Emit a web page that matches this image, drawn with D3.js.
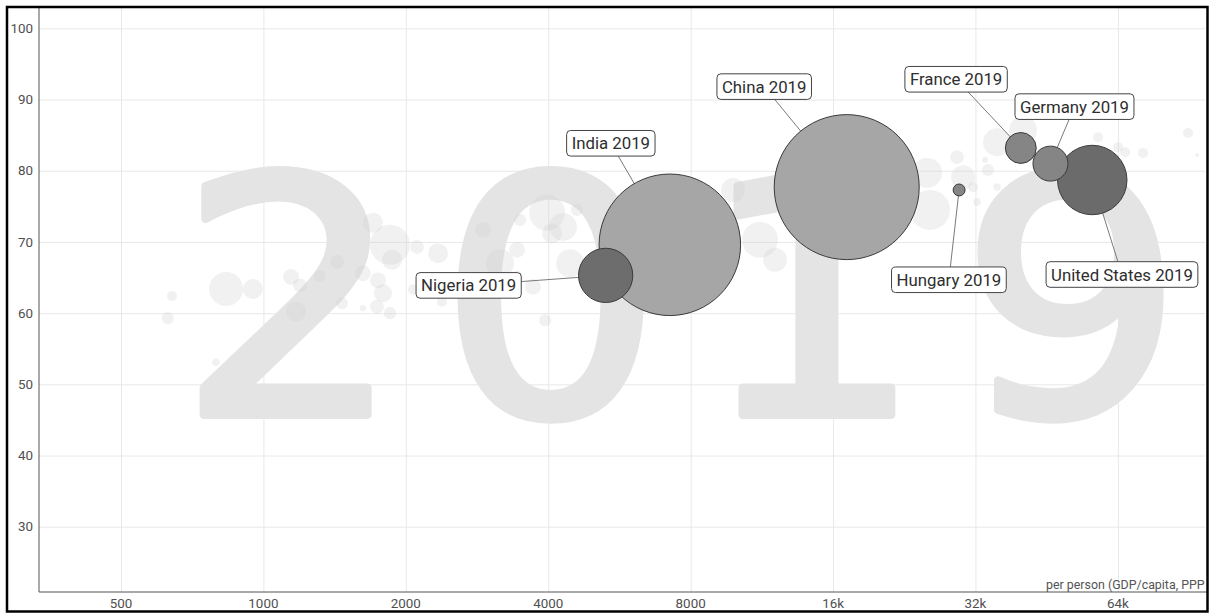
<!DOCTYPE html>
<html><head><meta charset="utf-8">
<script src="https://cdn.jsdelivr.net/npm/d3@7"></script>
<style>
html,body{margin:0;padding:0;background:#fff;}
svg{display:block;}
text{font-family:Roboto,"Open Sans",sans-serif;}
</style></head><body>
<svg id="chart" width="1209" height="613"></svg>
<script>
// ---------- data ----------
const yearLabel = "2019";
const countries = ["Nigeria", "India", "China", "Hungary", "France", "Germany", "United States"];
const regions = ["africa", "asia", "asia", "europe", "europe", "europe", "americas"];
const gdpPerCapita = [5290, 7230, 17100, 29550, 39900, 46100, 56500];
const lifeExpectancy = [65.3, 69.6, 77.7, 77.3, 83.2, 81.0, 78.7];
const populationM = [201, 1366, 1434, 9.7, 65, 83.5, 329];

// other (non-selected) countries, faint background bubbles
const bgGdp = [641, 628, 834, 950, 1144, 1195, 1172, 794, 1317, 1431, 1705, 1852, 1870, 2112, 2340, 1623, 1747, 1790, 1466, 1623, 1738, 1852, 2072, 2385, 2912, 3164, 3437, 3487, 3977, 4075, 4298, 4602, 4448, 3714, 3939, 3437, 9836, 11213, 12066, 9235, 13624, 25284, 25652, 29261, 30126, 31624, 32245, 34013, 33520, 35548, 35548, 40337, 58110, 64050, 66300, 72350, 90050, 94100, 21110, 22165];
const bgLife = [62.4, 59.3, 63.4, 63.4, 65.1, 63.9, 60.2, 53.1, 65.2, 67.2, 72.7, 69.6, 67.5, 69.3, 68.4, 65.6, 64.6, 62.8, 61.4, 60.7, 60.9, 60.0, 63.3, 61.6, 71.7, 67.0, 68.9, 73.1, 74.1, 71.2, 72.1, 74.5, 67.0, 63.7, 59.0, 65.1, 77.3, 70.3, 67.5, 66.1, 71.7, 79.7, 74.5, 81.9, 79.1, 77.7, 75.6, 80.1, 81.5, 77.7, 84.0, 85.7, 84.7, 83.3, 82.6, 82.5, 85.3, 82.2, 73.8, 77.3];
const bgPop = [7, 10, 79, 27, 17, 13, 27, 4, 10, 13, 27, 109, 27, 13, 27, 17, 17, 22, 10, 2.5, 13, 10, 7, 7, 17, 53, 17, 10, 88, 27, 53, 10, 53, 17, 10, 10, 39, 88, 39, 27, 27, 61, 109, 13, 39, 7, 4, 10, 2.5, 4, 53, 53, 7, 7, 7, 7, 7, 1, 27, 17];

const xTickValues = [500, 1000, 2000, 4000, 8000, 16000, 32000, 64000];
const xTickLabels = ["500", "1000", "2000", "4000", "8000", "16k", "32k", "64k"];
const yTickValues = [30, 40, 50, 60, 70, 80, 90, 100];
const xAxisTitle = "per person (GDP/capita, PPP$ inflation-adjusted)";

// ---------- layout / style ----------
const W = 1209, H = 613;
const plot = {left: 39, right: 1205, top: 7, bottom: 592};
const regionColor = {africa: "#6d6d6d", americas: "#6b6b6b", europe: "#858585", asia: "#a6a6a6"};
// label box offset relative to bubble centre
const labelOffset = {
  "Nigeria": [-137, 10], "India": [-59, -101.5], "China": [-82.5, -100.5],
  "France": [-64.7, -68.7], "Germany": [24, -57], "Hungary": [-10.2, 89.8],
  "United States": [29.7, 94.5]
};

const svg = d3.select("#chart");
svg.append("rect").attr("width", W).attr("height", H).attr("fill", "#fff");

const x = d3.scaleLog().base(2).domain([335.5, 97800]).range([plot.left, plot.right]);
const y = d3.scaleLinear().domain([20.83, 103]).range([plot.bottom, plot.top]);
const r = d3.scaleSqrt().domain([0, 1434]).range([0, 72.5]);

svg.append("clipPath").attr("id", "plotclip").append("rect")
  .attr("x", plot.left).attr("y", plot.top).attr("width", plot.right - plot.left).attr("height", plot.bottom - plot.top);

// grid
const gx = svg.append("g").attr("transform", `translate(0,${plot.bottom})`)
  .call(d3.axisBottom(x).tickValues(xTickValues).tickSize(-(plot.bottom - plot.top)).tickFormat(""));
gx.select(".domain").remove();
gx.selectAll("line").attr("stroke", "#e8e8e8").attr("stroke-width", 1);
const gy = svg.append("g").attr("transform", `translate(${plot.left},0)`)
  .call(d3.axisLeft(y).tickValues(yTickValues).tickSize(-(plot.right - plot.left)).tickFormat(""));
gy.select(".domain").remove();
gy.selectAll("line").attr("stroke", "#e8e8e8").attr("stroke-width", 1);

const plotG = svg.append("g").attr("clip-path", "url(#plotclip)");

// big year
plotG.append("text").attr("transform", "translate(178,415) scale(1.07,1)")
  .style("font-family", "'DejaVu Sans', sans-serif").style("font-size", "330px")
  .style("letter-spacing", "33.5px").attr("fill", "#e4e4e4")
  .attr("stroke", "#e4e4e4").attr("stroke-width", 8).attr("stroke-linejoin", "round")
  .text(yearLabel);

// background bubbles
const bg = bgGdp.map((g, i) => ({g, l: bgLife[i], p: bgPop[i]})).sort((a, b) => b.p - a.p);
plotG.selectAll("circle.bg").data(bg).join("circle").attr("class", "bg")
  .attr("cx", d => x(d.g)).attr("cy", d => y(d.l)).attr("r", d => r(d.p))
  .attr("fill", "#d0d0d0").attr("opacity", 0.3);

// selected countries
const sel = countries.map((c, i) => ({c, reg: regions[i], g: gdpPerCapita[i], l: lifeExpectancy[i], p: populationM[i]}));
sel.forEach(d => { d.cx = x(d.g); d.cy = y(d.l); d.lx = d.cx + labelOffset[d.c][0]; d.ly = d.cy + labelOffset[d.c][1]; });

plotG.selectAll("line.lead").data(sel).join("line").attr("class", "lead")
  .attr("x1", d => d.lx).attr("y1", d => d.ly).attr("x2", d => d.cx).attr("y2", d => d.cy)
  .attr("stroke", "#7a7a7a").attr("stroke-width", 1);

plotG.selectAll("circle.sel").data(sel.slice().sort((a, b) => b.p - a.p)).join("circle").attr("class", "sel")
  .attr("cx", d => d.cx).attr("cy", d => d.cy).attr("r", d => r(d.p))
  .attr("fill", d => regionColor[d.reg]).attr("stroke", "#3a3a3a").attr("stroke-width", 1);

const lab = plotG.selectAll("g.lab").data(sel).join("g").attr("class", "lab")
  .attr("transform", d => `translate(${d.lx},${d.ly})`);
const rects = lab.append("rect");
const texts = lab.append("text").attr("text-anchor", "middle").attr("dy", "0.36em")
  .style("font-size", "16.8px").attr("fill", "#2e2e2e").text(d => d.c + " " + yearLabel);
texts.each(function(d) { d.tw = this.getComputedTextLength(); });
rects.attr("x", d => -d.tw / 2 - 5).attr("y", -12.8).attr("width", d => d.tw + 10).attr("height", 25.6)
  .attr("rx", 4).attr("fill", "#fff").attr("stroke", "#444").attr("stroke-width", 1);

// axis title
plotG.append("text").attr("x", 1046).attr("y", 589).style("font-size", "12.4px").attr("fill", "#555").text(xAxisTitle);

// axis lines
svg.append("line").attr("x1", plot.left).attr("x2", plot.left).attr("y1", plot.top).attr("y2", plot.bottom).attr("stroke", "#555");
svg.append("line").attr("x1", plot.left).attr("x2", plot.right + 2).attr("y1", plot.bottom).attr("y2", plot.bottom).attr("stroke", "#555");

// tick labels
svg.append("g").selectAll("text").data(xTickValues).join("text")
  .attr("x", d => x(d)).attr("y", 608).attr("text-anchor", "middle")
  .style("font-size", "13.4px").attr("fill", "#505050").text((d, i) => xTickLabels[i]);
svg.append("g").selectAll("text").data(yTickValues).join("text")
  .attr("x", 33).attr("y", d => y(d)).attr("dy", "0.35em").attr("text-anchor", "end")
  .style("font-size", "13.4px").attr("fill", "#505050").text(d => d);

// frame
svg.append("rect").attr("x", 7).attr("y", 7).attr("width", 1200.5).attr("height", 604.5)
  .attr("fill", "none").attr("stroke", "#000").attr("stroke-width", 2.5);
</script>
</body></html>
